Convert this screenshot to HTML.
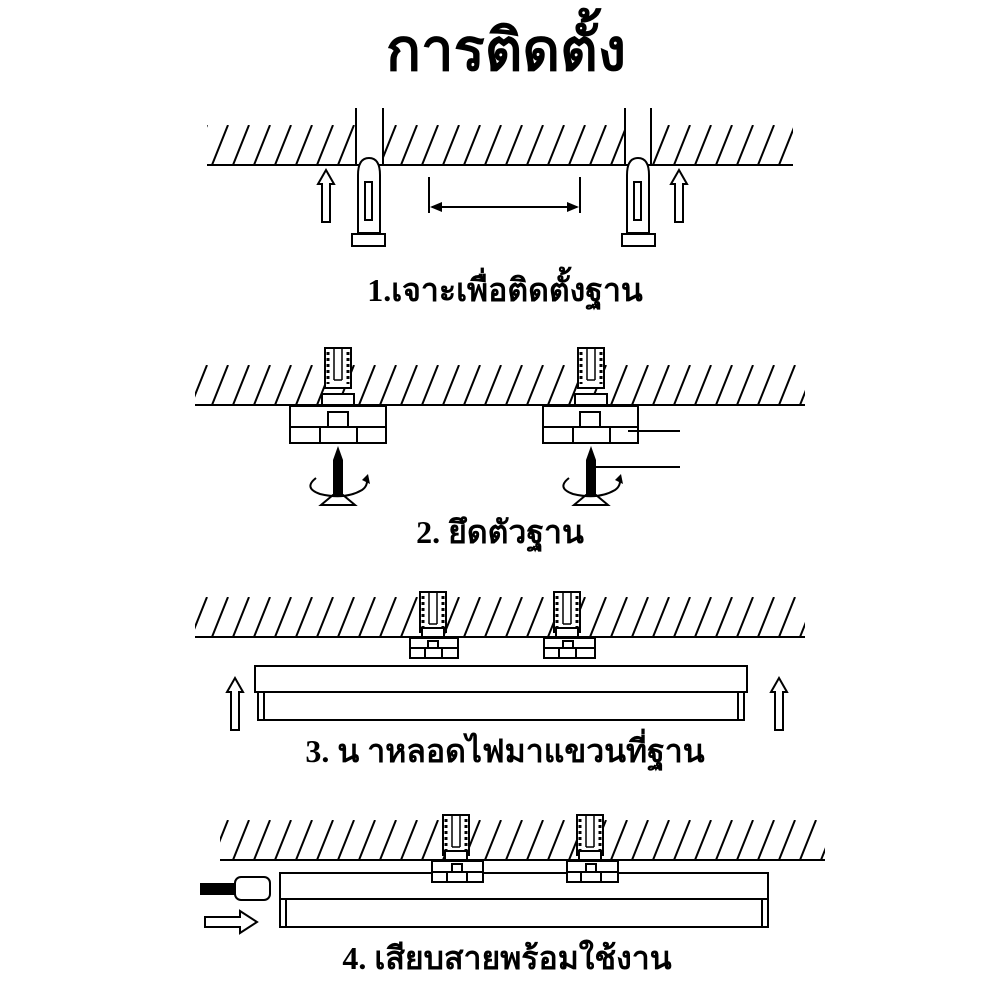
<!DOCTYPE html>
<html><head><meta charset="utf-8"><style>
html,body{margin:0;padding:0;background:#fff}
svg{display:block}
text{font-family:"Liberation Serif","Noto Serif CJK SC","Noto Sans CJK SC",serif;font-weight:bold;fill:#000;text-anchor:middle}
</style></head><body>
<svg width="1000" height="1000" viewBox="0 0 1000 1000" xmlns="http://www.w3.org/2000/svg">
<defs>
<pattern id="h1" patternUnits="userSpaceOnUse" x="0" y="125" width="21" height="40"><line x1="2" y1="40" x2="18" y2="0" stroke="#000" stroke-width="2"/></pattern>
<pattern id="h2" patternUnits="userSpaceOnUse" x="0" y="365" width="21" height="40"><line x1="2" y1="40" x2="18" y2="0" stroke="#000" stroke-width="2"/></pattern>
<pattern id="h3" patternUnits="userSpaceOnUse" x="0" y="597" width="21" height="40"><line x1="2" y1="40" x2="18" y2="0" stroke="#000" stroke-width="2"/></pattern>
<pattern id="h4" patternUnits="userSpaceOnUse" x="0" y="820" width="21" height="40"><line x1="2" y1="40" x2="18" y2="0" stroke="#000" stroke-width="2"/></pattern>
<g id="upArrow"><path d="M0,0 L8,14 L4,14 L4,52 L-4,52 L-4,14 L-8,14 Z" fill="#fff" stroke="#000" stroke-width="2"/></g>
<g id="anchorSmall" fill="#fff" stroke="#000" stroke-width="2">
<rect x="-13" y="0" width="26" height="40"/>
<line x1="-4" y1="0" x2="-4" y2="32" stroke-width="1.5"/><line x1="4" y1="0" x2="4" y2="32" stroke-width="1.5"/><line x1="-4" y1="32" x2="4" y2="32" stroke-width="1.5"/>
<line x1="-10" y1="4" x2="-10" y2="36" stroke-dasharray="3,3" stroke-width="3"/><line x1="10" y1="4" x2="10" y2="36" stroke-dasharray="3,3" stroke-width="3"/>
</g>
</defs>

<text x="506" y="70" font-size="58">การติดตั้ง</text>

<!-- Section 1 -->
<rect x="207" y="125" width="586" height="40" fill="url(#h1)"/>
<rect x="357" y="108" width="26" height="57" fill="#fff"/>
<rect x="626" y="108" width="25" height="57" fill="#fff"/>
<line x1="207" y1="165" x2="793" y2="165" stroke="#000" stroke-width="2"/>
<g stroke="#000" stroke-width="2" fill="none">
<line x1="356" y1="108" x2="356" y2="165"/><line x1="383" y1="108" x2="383" y2="165"/>
<line x1="625" y1="108" x2="625" y2="165"/><line x1="651" y1="108" x2="651" y2="165"/>
</g>
<g fill="#fff" stroke="#000" stroke-width="2">
<path d="M358,233 L358,175 Q358,158 369,158 Q380,158 380,175 L380,233 Z"/>
<rect x="365" y="182" width="7" height="38"/>
<rect x="352" y="234" width="33" height="12"/>
<path d="M627,233 L627,175 Q627,158 638,158 Q649,158 649,175 L649,233 Z"/>
<rect x="634" y="182" width="7" height="38"/>
<rect x="622" y="234" width="33" height="12"/>
</g>
<use href="#upArrow" x="326" y="170"/>
<use href="#upArrow" x="679" y="170"/>
<g stroke="#000" stroke-width="2">
<line x1="429" y1="177" x2="429" y2="213"/><line x1="580" y1="177" x2="580" y2="213"/>
<line x1="432" y1="207" x2="577" y2="207"/>
</g>
<path d="M430,207 L442,202 L442,212 Z M579,207 L567,202 L567,212 Z" fill="#000"/>
<text x="505" y="301" font-size="32">1.เจาะเพื่อติดตั้งฐาน</text>

<!-- Section 2 -->
<rect x="195" y="365" width="610" height="40" fill="url(#h2)"/>
<line x1="195" y1="405" x2="805" y2="405" stroke="#000" stroke-width="2"/>
<use href="#anchorSmall" x="338" y="348"/>
<use href="#anchorSmall" x="591" y="348"/>
<g fill="#fff" stroke="#000" stroke-width="2">
<rect x="322" y="394" width="32" height="11"/>
<rect x="575" y="394" width="32" height="11"/>
<rect x="290" y="406" width="96" height="37"/>
<line x1="290" y1="427" x2="386" y2="427"/><rect x="328" y="412" width="20" height="15"/>
<line x1="320" y1="427" x2="320" y2="443"/><line x1="357" y1="427" x2="357" y2="443"/>
<rect x="543" y="406" width="95" height="37"/>
<line x1="543" y1="427" x2="638" y2="427"/><rect x="580" y="412" width="20" height="15"/>
<line x1="573" y1="427" x2="573" y2="443"/><line x1="610" y1="427" x2="610" y2="443"/>
</g>
<g stroke="#000" stroke-width="2">
<line x1="628" y1="431" x2="680" y2="431"/><line x1="595" y1="467" x2="680" y2="467"/>
</g>
<g id="screw">
<path d="M338,446 L343,460 L343,495 L333,495 L333,460 Z" fill="#000"/>
<path d="M321,505 L355,505 L343,495 L333,495 Z" fill="#fff" stroke="#000" stroke-width="2"/>
<path d="M316,478 Q303,488 320,494 Q345,500 362,490 Q368,486 367,478" fill="none" stroke="#000" stroke-width="2"/>
<path d="M362,480 L368,474 L370,484 Z" fill="#000"/>
</g>
<use href="#screw" x="253" y="0"/>
<text x="500" y="543" font-size="32">2. ยึดตัวฐาน</text>

<!-- Section 3 -->
<rect x="195" y="597" width="610" height="40" fill="url(#h3)"/>
<line x1="195" y1="637" x2="805" y2="637" stroke="#000" stroke-width="2"/>
<use href="#anchorSmall" x="433" y="592"/>
<use href="#anchorSmall" x="567" y="592"/>
<g fill="#fff" stroke="#000" stroke-width="2">
<rect x="422" y="628" width="22" height="9"/><rect x="556" y="628" width="22" height="9"/>
<rect x="410" y="638" width="48" height="20"/><line x1="410" y1="648" x2="458" y2="648"/><rect x="428" y="641" width="10" height="7"/><line x1="425" y1="648" x2="425" y2="658"/><line x1="442" y1="648" x2="442" y2="658"/>
<rect x="544" y="638" width="51" height="20"/><line x1="544" y1="648" x2="595" y2="648"/><rect x="563" y="641" width="10" height="7"/><line x1="559" y1="648" x2="559" y2="658"/><line x1="576" y1="648" x2="576" y2="658"/>
<rect x="255" y="666" width="492" height="26"/>
<rect x="258" y="692" width="486" height="28"/>
<line x1="264" y1="692" x2="264" y2="720"/><line x1="738" y1="692" x2="738" y2="720"/>
</g>
<use href="#upArrow" x="235" y="678"/>
<use href="#upArrow" x="779" y="678"/>
<text x="505" y="762" font-size="32">3. น าหลอดไฟมาแขวนที่ฐาน</text>

<!-- Section 4 -->
<rect x="220" y="820" width="605" height="40" fill="url(#h4)"/>
<line x1="220" y1="860" x2="825" y2="860" stroke="#000" stroke-width="2"/>
<use href="#anchorSmall" x="456" y="815"/>
<use href="#anchorSmall" x="590" y="815"/>
<g fill="#fff" stroke="#000" stroke-width="2">
<rect x="280" y="873" width="488" height="26"/>
<rect x="280" y="899" width="488" height="28"/>
<line x1="286" y1="899" x2="286" y2="927"/><line x1="762" y1="899" x2="762" y2="927"/>
<rect x="445" y="851" width="22" height="9"/><rect x="579" y="851" width="22" height="9"/>
<rect x="432" y="861" width="51" height="21"/><line x1="432" y1="872" x2="483" y2="872"/><rect x="452" y="864" width="10" height="8"/><line x1="447" y1="872" x2="447" y2="882"/><line x1="467" y1="872" x2="467" y2="882"/>
<rect x="567" y="861" width="51" height="21"/><line x1="567" y1="872" x2="618" y2="872"/><rect x="586" y="864" width="10" height="8"/><line x1="581" y1="872" x2="581" y2="882"/><line x1="601" y1="872" x2="601" y2="882"/>
</g>
<rect x="200" y="883" width="36" height="12" fill="#000"/>
<rect x="235" y="877" width="35" height="23" rx="6" fill="#fff" stroke="#000" stroke-width="2"/>
<path d="M205,917 L240,917 L240,911 L257,922 L240,933 L240,927 L205,927 Z" fill="#fff" stroke="#000" stroke-width="2"/>
<text x="507" y="969" font-size="32">4. เสียบสายพร้อมใช้งาน</text>
</svg>
</body></html>
